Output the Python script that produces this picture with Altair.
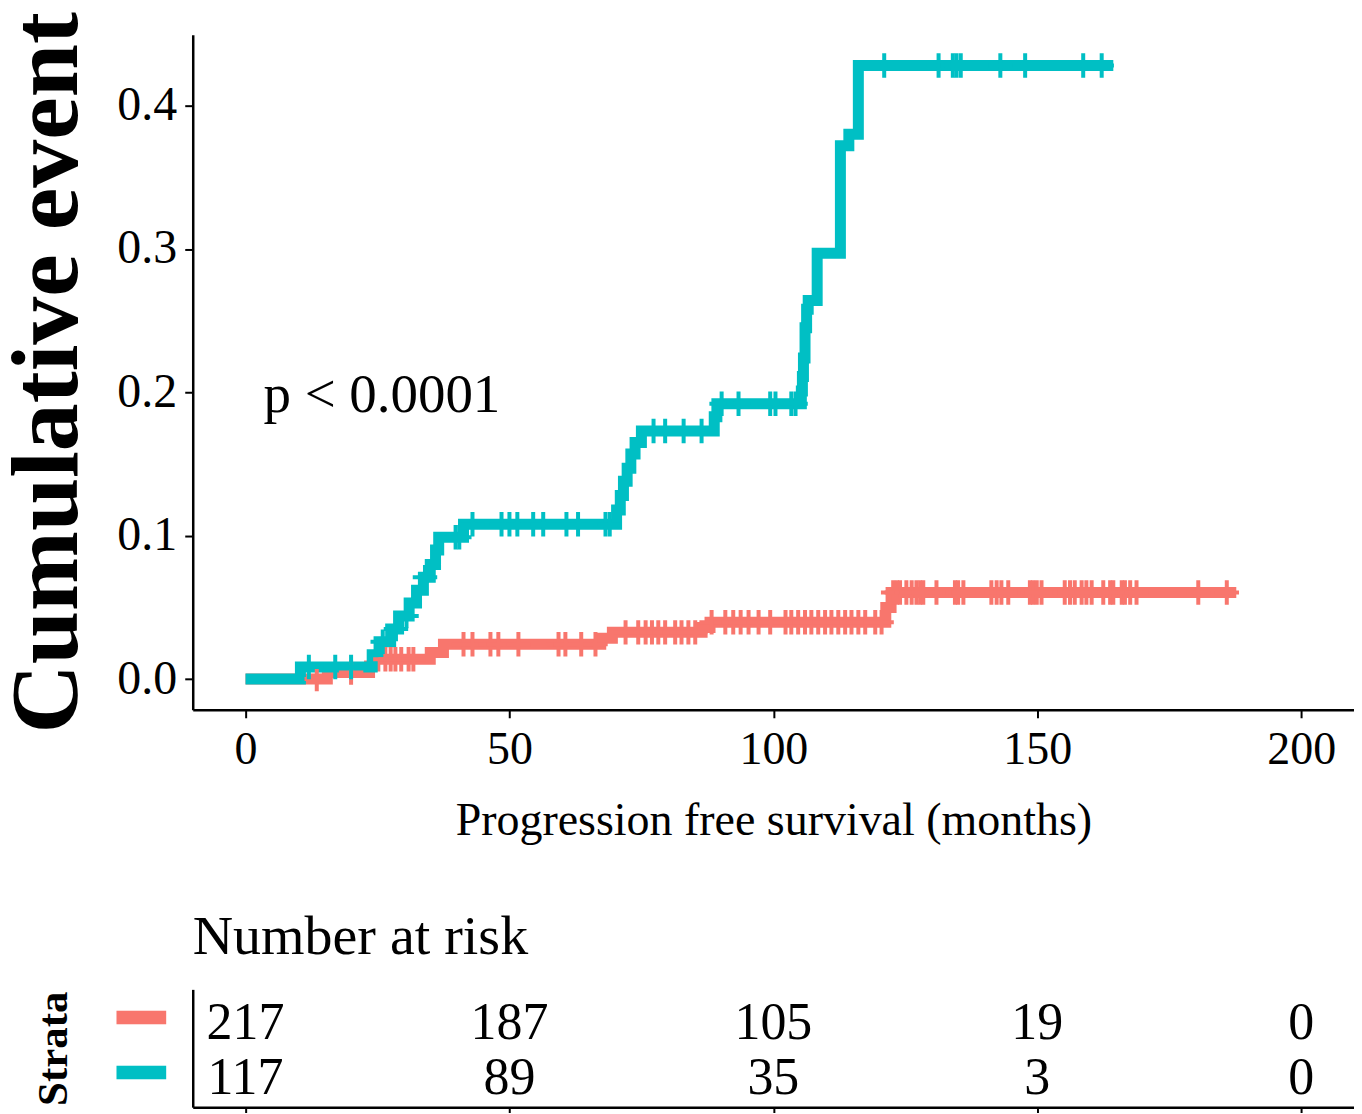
import altair as alt
import pandas as pd
import numpy as np

STRATA = ["strata=1", "strata=2"]
COLORS = ["#F8766D", "#00BFC4"]

# ---- Stratum 1 (red): step times / cumulative event
red_times = [0, 15.5, 23.5, 24.5, 35.0, 37.5, 67.3, 69.5, 86.5, 88.0, 121.3, 122.3, 187.7]
red_cum = [0, 0.0046, 0.0092, 0.0138, 0.0185, 0.0243, 0.0285, 0.0326, 0.0360, 0.0396, 0.0500, 0.0604, 0.0604]
red_censor = [13.5, 20.0, 26.5, 27.5, 28.4, 29.5, 30.9, 31.8,
              41.3, 43.0, 46.4, 47.9, 51.7, 59.3, 60.6, 63.6, 66.3,
              72.0, 74.4, 75.8, 77.0, 78.2, 79.5, 81.4, 82.6, 83.9, 85.2,
              88.3, 90.9, 92.4, 93.8, 95.3, 97.2, 99.4, 102.3, 103.4, 104.7, 106.0, 107.2,
              108.5, 109.8, 111.0, 112.3, 113.6, 114.8, 116.1, 117.4, 119.3, 120.5,
              122.7, 123.4, 124.0, 125.2, 126.2, 127.1, 127.8, 128.4, 130.9, 134.4, 135.0, 136.0,
              141.3, 142.3, 143.2, 144.5, 148.6, 149.2, 149.9, 150.8, 155.2, 156.2, 157.1, 158.4,
              159.3, 160.3, 162.5, 163.8, 164.4, 166.0, 166.6, 167.6, 168.8, 180.5, 185.9]

# ---- Stratum 2 (teal)
teal_times = [0, 10.4, 24.0, 25.3, 27.5, 29.0, 31.0, 32.4, 33.7, 35.0, 36.0, 36.6, 41.3,
              70.3, 71.0, 71.6, 72.3, 73.0, 73.8, 75.0, 88.8, 89.3,
              105.3, 105.5, 105.7, 106.0, 106.3, 106.6, 108.3, 112.7, 114.3, 116.1, 164.4]
teal_cum = [0, 0.0085, 0.017, 0.026, 0.035, 0.044, 0.053, 0.062, 0.071, 0.080, 0.090, 0.099, 0.108,
            0.118, 0.128, 0.138, 0.147, 0.157, 0.165, 0.173, 0.183, 0.192,
            0.201, 0.211, 0.224, 0.245, 0.258, 0.264, 0.297, 0.372, 0.380, 0.428, 0.428]
teal_censor = [12.0, 17.0, 20.0, 26.0, 28.5, 30.5, 34.0, 39.8, 40.5,
               43.0, 48.5, 50.0, 51.5, 54.5, 56.4, 60.8, 63.0, 68.2, 69.0,
               77.3, 79.5, 83.0, 86.4,
               90.2, 93.4, 99.4, 100.4, 103.4, 104.2,
               121.0, 131.3, 134.0, 134.7, 135.5, 143.0, 147.7, 158.7, 162.2]

# ---- Number at risk table
risk_times = [0, 50, 100, 150, 200]
red_risk = [217, 187, 105, 19, 0]
teal_risk = [117, 89, 35, 3, 0]

x_ticks = [0, 50, 100, 150, 200]
y_ticks = [0.0, 0.1, 0.2, 0.3, 0.4]

FONT = "Liberation Serif"


def step_value(times, cum, t):
    i = int(np.searchsorted(np.array(times), t, side="right")) - 1
    return cum[max(i, 0)]


curve_rows = []
for s, times, cum in [(STRATA[0], red_times, red_cum), (STRATA[1], teal_times, teal_cum)]:
    for t, c in zip(times, cum):
        curve_rows.append({"strata": s, "time": t, "cum": c})
curve_df = pd.DataFrame(curve_rows)

cens_rows = []
for s, times, cum, cens in [(STRATA[0], red_times, red_cum, red_censor),
                            (STRATA[1], teal_times, teal_cum, teal_censor)]:
    for t in cens:
        cens_rows.append({"strata": s, "time": t, "cum": step_value(times, cum, t)})
cens_df = pd.DataFrame(cens_rows)

risk_rows = []
for s, vals in [(STRATA[0], red_risk), (STRATA[1], teal_risk)]:
    for t, n in zip(risk_times, vals):
        risk_rows.append({"strata": s, "time": t, "n": str(n)})
risk_df = pd.DataFrame(risk_rows)

pval_df = pd.DataFrame({"time": [3.4], "cum": [0.198], "label": ["p < 0.0001"]})

x_scale = alt.Scale(domain=[-10, 210], nice=False, zero=False)
y_scale = alt.Scale(domain=[-0.0214, 0.4494], nice=False, zero=False)
color_scale = alt.Scale(domain=STRATA, range=COLORS)

x_axis = alt.Axis(values=x_ticks, title="Progression free survival (months)", grid=False,
                  labelFont=FONT, labelFontSize=46, labelColor="black", labelPadding=10,
                  titleFont=FONT, titleFontSize=46, titleFontWeight="normal", titleColor="black",
                  titlePadding=26, tickSize=8, tickWidth=2, tickColor="black",
                  domainColor="black", domainWidth=2.5, labelFlush=False)
y_axis = alt.Axis(values=y_ticks, format=".1f", title="Cumulative event", grid=False,
                  labelFont=FONT, labelFontSize=48, labelColor="black", labelPadding=8,
                  titleFont=FONT, titleFontSize=96, titleFontWeight="bold", titleColor="black",
                  titlePadding=20, tickSize=8, tickWidth=2, tickColor="black",
                  domainColor="black", domainWidth=2.5, labelFlush=False)

lines = alt.Chart(curve_df).mark_line(interpolate="step-after", strokeWidth=11).encode(
    x=alt.X("time:Q", scale=x_scale, axis=x_axis),
    y=alt.Y("cum:Q", scale=y_scale, axis=y_axis),
    color=alt.Color("strata:N", scale=color_scale, legend=None),
)
cens = alt.Chart(cens_df).mark_point(shape="M-1,0H1M0,-1V1", filled=False, strokeWidth=4,
                                     size=600, opacity=1).encode(
    x=alt.X("time:Q", scale=x_scale),
    y=alt.Y("cum:Q", scale=y_scale),
    color=alt.Color("strata:N", scale=color_scale, legend=None),
)
pval = alt.Chart(pval_df).mark_text(font=FONT, fontSize=55, align="left", baseline="middle",
                                    color="black").encode(
    x=alt.X("time:Q", scale=x_scale),
    y=alt.Y("cum:Q", scale=y_scale),
    text="label:N",
)
main = alt.layer(lines, cens, pval).properties(width=1163, height=676)

risk = alt.Chart(risk_df).mark_text(font=FONT, fontSize=52, align="center", baseline="middle",
                                    color="black", dy=2).encode(
    x=alt.X("time:Q", scale=x_scale,
            axis=alt.Axis(values=x_ticks, labels=False, title=None, grid=False, tickSize=6,
                          tickWidth=2, tickColor="black", domainColor="black", domainWidth=2.5)),
    y=alt.Y("strata:N", scale=alt.Scale(domain=STRATA, padding=0.5727),
            axis=alt.Axis(title="Strata", grid=False, ticks=False, labelExpr="'\u2501'",
                          labelFont="DejaVu Sans", labelFontSize=80, labelPadding=28,
                          labelColor={"condition": {"test": "datum.value == 'strata=1'", "value": COLORS[0]},
                                      "value": COLORS[1]},
                          titleFont=FONT, titleFontSize=43, titleFontWeight="bold", titleColor="black",
                          titlePadding=41, domainColor="black", domainWidth=2.5)),
    text="n:N",
).properties(width=1163, height=118,
             title=alt.TitleParams("Number at risk", anchor="start", frame="group", font=FONT,
                                   fontSize=56, fontWeight="normal", color="black", offset=15))

chart = alt.vconcat(main, risk, spacing=65).properties(
    padding={"left": -9, "top": 2, "right": 0, "bottom": -4}, background="white"
).configure_view(stroke=None)

chart.save("out.html", embed_options={"renderer": "svg", "actions": False})
